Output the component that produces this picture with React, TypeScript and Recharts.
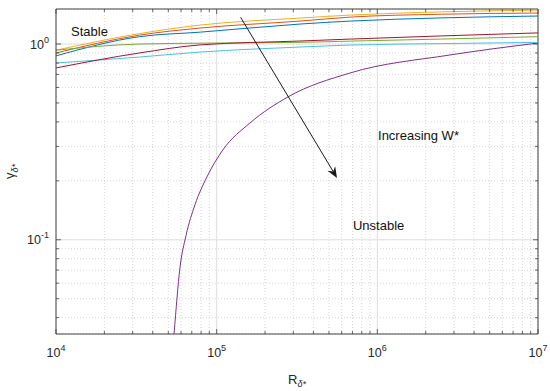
import React from 'react';
import {
    LineChart,
    Line,
    XAxis,
    YAxis,
    CartesianGrid,
    ReferenceLine,
    ReferenceDot,
    Label,
} from 'recharts';

// Reynolds number grid shared by the stable-branch curves
const R_GRID = [1e4, 3.3e4, 7.9e4, 3.3e5, 6.8e5, 2.5e6, 1e7];
const GAMMA_BLUE = [0.87, 1.09, 1.15, 1.265, 1.31, 1.36, 1.39];
const GAMMA_ORANGE = [0.9, 1.11, 1.207, 1.31, 1.373, 1.42, 1.44];
const GAMMA_YELLOW = [0.93, 1.13, 1.25, 1.357, 1.406, 1.46, 1.49];
const GAMMA_GREEN = [0.93, 1.0, 1.01, 1.02, 1.035, 1.06, 1.09];
const GAMMA_CYAN = [0.8, 0.858, 0.91, 0.965, 0.988, 1.005, 1.02];
const GAMMA_RED = [0.755, 0.9, 0.99, 1.036, 1.06, 1.1, 1.14];

// the curve that drops into the unstable region
const R_UNSTABLE = [5.3e4, 5.43e4, 5.91e4, 6.44e4, 7.33e4, 8.7e4, 1.094e5, 1.612e5, 2.78e5, 6.75e5, 2.83e6, 1e7];
const GAMMA_PURPLE = [0.026, 0.0331, 0.072, 0.1048, 0.151, 0.2096, 0.288, 0.395, 0.537, 0.711, 0.879, 1.012];

const X_TICKS = [
    1e4, 2e4, 3e4, 4e4, 5e4, 6e4, 7e4, 8e4, 9e4,
    1e5, 2e5, 3e5, 4e5, 5e5, 6e5, 7e5, 8e5, 9e5,
    1e6, 2e6, 3e6, 4e6, 5e6, 6e6, 7e6, 8e6, 9e6,
    1e7,
];
const Y_TICKS = [
    0.04, 0.05, 0.06, 0.07, 0.08, 0.09,
    0.1, 0.2, 0.3, 0.4, 0.5, 0.6, 0.7, 0.8, 0.9,
    1,
];
const X_MAJOR_GRID = [1e5, 1e6];
const Y_MAJOR_GRID = [0.1, 1];

const X_DOMAIN = [1e4, 1e7];
const Y_DOMAIN = [0.033, 1.51];

const ARROW = [
    { r: 1.41e5, g: 1.369 },
    { r: 5.61e5, g: 0.207 },
];
const NOTES = [
    { text: 'Stable', r: 1.24e4, g: 1.16 },
    { text: 'Increasing W*', r: 1.01e6, g: 0.34 },
    { text: 'Unstable', r: 7.05e5, g: 0.118 },
];

const SERIES = [
    { key: 'blue', color: '#0072BD', r: R_GRID, g: GAMMA_BLUE },
    { key: 'orange', color: '#D95319', r: R_GRID, g: GAMMA_ORANGE },
    { key: 'yellow', color: '#EDB120', r: R_GRID, g: GAMMA_YELLOW },
    { key: 'purple', color: '#7E2F8E', r: R_UNSTABLE, g: GAMMA_PURPLE },
    { key: 'green', color: '#77AC30', r: R_GRID, g: GAMMA_GREEN },
    { key: 'cyan', color: '#4DBEEE', r: R_GRID, g: GAMMA_CYAN },
    { key: 'red', color: '#A2142F', r: R_GRID, g: GAMMA_RED },
];

const W = 550;
const H = 391;
const PLOT = { left: 56, right: 538, top: 9, bottom: 334 };
const FONT = '"Liberation Sans", Arial, Helvetica, sans-serif';
const AXIS = '#404040';
const TXT = '#262626';

const isDecade = (v: number) => Math.abs(Math.log10(v) - Math.round(Math.log10(v))) < 1e-9;

const XTick = (props: any) => {
    const { x, y, payload } = props;
    const v = payload.value;
    const major = isDecade(v);
    const len = major ? 5 : 3;
    return (
        <g>
            <line x1={x} y1={y} x2={x} y2={y - len} stroke={AXIS} strokeWidth={0.8} />
            <line x1={x} y1={PLOT.top} x2={x} y2={PLOT.top + len} stroke={AXIS} strokeWidth={0.8} />
            {major && (
                <text x={x} y={y + 23} textAnchor="middle" fontSize={12.5} fill={TXT} fontFamily={FONT}>
                    10<tspan dy={-6} fontSize={9}>{Math.round(Math.log10(v))}</tspan>
                </text>
            )}
        </g>
    );
};

const YTick = (props: any) => {
    const { x, y, payload } = props;
    const v = payload.value;
    const major = isDecade(v);
    const len = major ? 5 : 3;
    return (
        <g>
            <line x1={x} y1={y} x2={x + len} y2={y} stroke={AXIS} strokeWidth={0.8} />
            <line x1={PLOT.right} y1={y} x2={PLOT.right - len} y2={y} stroke={AXIS} strokeWidth={0.8} />
            {major && (
                <text x={x - 7} y={y + 4.5} textAnchor="end" fontSize={12.5} fill={TXT} fontFamily={FONT}>
                    10<tspan dy={-6} fontSize={9}>{Math.round(Math.log10(v))}</tspan>
                </text>
            )}
        </g>
    );
};

// line with a MATLAB-style "vback2" arrow head at the end point
const ArrowShape = (props: any) => {
    const { x1, y1, x2, y2 } = props;
    if ([x1, y1, x2, y2].some((n) => n == null || Number.isNaN(n))) return null;
    const a = Math.atan2(y2 - y1, x2 - x1);
    const len = 11;
    const half = 4.5;
    const notch = 7.5;
    const bx = x2 - len * Math.cos(a);
    const by = y2 - len * Math.sin(a);
    const nx = x2 - notch * Math.cos(a);
    const ny = y2 - notch * Math.sin(a);
    const px = -Math.sin(a) * half;
    const py = Math.cos(a) * half;
    const pts = `${x2},${y2} ${bx + px},${by + py} ${nx},${ny} ${bx - px},${by - py}`;
    return (
        <g>
            <line x1={x1} y1={y1} x2={nx} y2={ny} stroke="#1a1a1a" strokeWidth={1} />
            <polygon points={pts} fill="#1a1a1a" />
        </g>
    );
};

const XLabel = (props: any) => {
    const vb = props.viewBox || {};
    const cx = vb.x + vb.width / 2;
    return (
        <text x={cx} y={384} textAnchor="middle" fontSize={13} fill={TXT} fontFamily={FONT}>
            R<tspan dy={3} fontSize={9} fontStyle="italic">δ*</tspan>
        </text>
    );
};

const YLabel = (props: any) => {
    const vb = props.viewBox || {};
    const cy = vb.y + vb.height / 2;
    return (
        <text
            x={14}
            y={cy}
            transform={`rotate(-90 14 ${cy})`}
            textAnchor="middle"
            fontSize={13}
            fill={TXT}
            fontFamily={FONT}
        >
            γ<tspan dy={4} fontSize={9} fontStyle="italic">δ*</tspan>
        </text>
    );
};

export default function App() {
    return (
        <div style={{ position: 'absolute', left: 0, top: 0, width: W, height: H, background: '#fff' }}>
            <LineChart
                width={W}
                height={H}
                margin={{ top: PLOT.top, right: W - PLOT.right, bottom: 0, left: 0 }}
            >
                <CartesianGrid stroke="#d6d6d6" strokeDasharray="1 2" />
                {X_MAJOR_GRID.map((v) => (
                    <ReferenceLine key={`gx${v}`} x={v} stroke="#e2e2e2" strokeWidth={1} />
                ))}
                {Y_MAJOR_GRID.map((v) => (
                    <ReferenceLine key={`gy${v}`} y={v} stroke="#e2e2e2" strokeWidth={1} />
                ))}
                <XAxis
                    dataKey="r"
                    type="number"
                    scale="log"
                    domain={X_DOMAIN}
                    allowDataOverflow
                    ticks={X_TICKS}
                    interval={0}
                    height={H - PLOT.bottom}
                    tickSize={0}
                    tickMargin={0}
                    tickLine={false}
                    tick={<XTick />}
                    axisLine={{ stroke: AXIS, strokeWidth: 1 }}
                >
                    <Label content={<XLabel />} />
                </XAxis>
                <YAxis
                    dataKey="g"
                    type="number"
                    scale="log"
                    domain={Y_DOMAIN}
                    allowDataOverflow
                    ticks={Y_TICKS}
                    interval={0}
                    width={PLOT.left}
                    tickSize={0}
                    tickMargin={0}
                    tickLine={false}
                    tick={<YTick />}
                    axisLine={{ stroke: AXIS, strokeWidth: 1 }}
                >
                    <Label content={<YLabel />} />
                </YAxis>
                <ReferenceLine x={X_DOMAIN[1]} stroke={AXIS} strokeWidth={1} />
                <ReferenceLine y={Y_DOMAIN[1]} stroke={AXIS} strokeWidth={1} />
                {SERIES.map((s) => (
                    <Line
                        key={s.key}
                        data={s.r.map((r, i) => ({ r, g: s.g[i] }))}
                        dataKey="g"
                        type="monotone"
                        stroke={s.color}
                        strokeWidth={1}
                        dot={false}
                        activeDot={false}
                        isAnimationActive={false}
                    />
                ))}
                <ReferenceLine
                    segment={[{ x: ARROW[0].r, y: ARROW[0].g }, { x: ARROW[1].r, y: ARROW[1].g }]}
                    shape={<ArrowShape />}
                />
                {NOTES.map((n) => (
                    <ReferenceDot
                        key={n.text}
                        x={n.r}
                        y={n.g}
                        r={0}
                        shape={(p: any) => (
                            <text x={p.cx} y={p.cy + 4.5} fontSize={13} fill="#111" fontFamily={FONT}>
                                {n.text}
                            </text>
                        )}
                    />
                ))}
            </LineChart>
        </div>
    );
}
